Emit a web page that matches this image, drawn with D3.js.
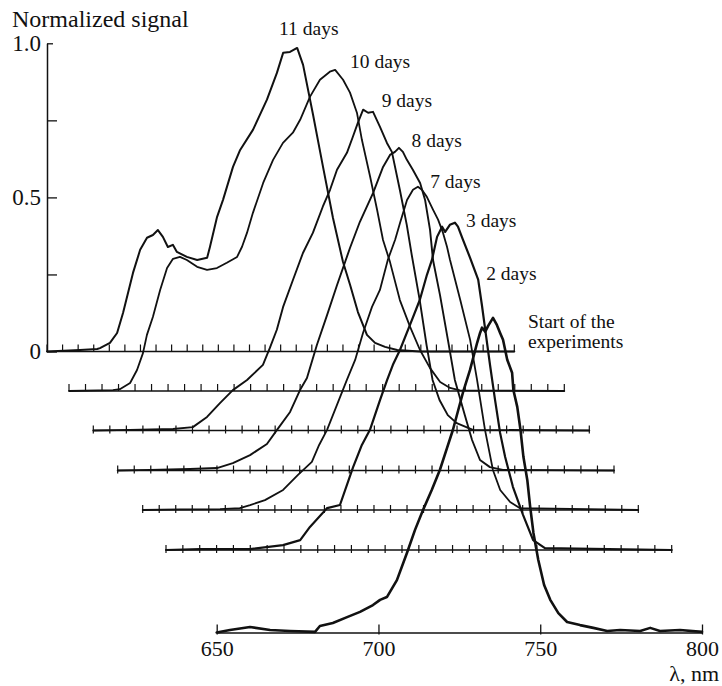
<!DOCTYPE html>
<html><head><meta charset="utf-8">
<script src="https://cdn.jsdelivr.net/npm/d3@7"></script>
<style>html,body{margin:0;padding:0;background:#fff;} svg{display:block}</style>
</head><body><svg id="chart" width="722" height="686"></svg>
<script>
// ---------------- DATA ----------------
const seriesNames = ["11 days","10 days","9 days","8 days","7 days","3 days","2 days","Start of the experiments"];
const xTickValues = [650, 700, 750, 800];
const yTickValues = [0, 0.25, 0.5, 0.75, 1.0];
const yTickLabels = {"0": "0", "0.5": "0.5", "1": "1.0"};
const minorTickStep = 5; // nm
const xDomain = [650, 800];

// [wavelength nm, normalized signal]
const curve11 = [[650,0],[660.6,0.005],[666.1,0.008],[667.0,0.011],[670.2,0.028],[672.5,0.060],[674.4,0.125],[676.0,0.190],[677.6,0.255],[679.9,0.330],[682.1,0.369],[684.0,0.378],[685.6,0.394],[687.2,0.372],[688.8,0.339],[690.4,0.346],[691.7,0.323],[694.9,0.307],[698.2,0.297],[701.4,0.304],[702.3,0.339],[704.6,0.437],[706.5,0.492],[709.7,0.599],[712.0,0.654],[716.1,0.719],[720.6,0.817],[723.8,0.904],[725.8,0.969],[728.0,0.972],[730.3,0.985],[732.2,0.930],[735.4,0.768],[738.6,0.599],[741.8,0.433],[745.0,0.291],[747.3,0.216],[749.8,0.128],[752.7,0.054],[755.3,0.028],[758.5,0.015],[762.4,0.005],[769.7,0],[800,0]];
const curve10 = [[650,0],[663.3,0.003],[665.4,0.006],[668.5,0.026],[670.6,0.068],[672.4,0.123],[673.6,0.182],[675.4,0.240],[677.6,0.328],[679.7,0.399],[681.5,0.429],[683.6,0.435],[685.7,0.425],[688.8,0.403],[691.8,0.393],[694.8,0.399],[697.8,0.416],[700.9,0.435],[702.4,0.468],[703.9,0.513],[705.7,0.578],[708.8,0.675],[711.8,0.750],[714.8,0.805],[717.8,0.838],[720.0,0.880],[723.0,0.955],[726.0,1.010],[729.0,1.036],[730.6,1.042],[733.0,1.010],[735.1,0.968],[737.2,0.903],[738.7,0.815],[741.2,0.695],[743.3,0.588],[745.1,0.490],[747.2,0.419],[750.2,0.295],[753.3,0.208],[756.3,0.133],[759.3,0.075],[762.4,0.029],[765.4,0.010],[768.4,0.002],[800,0]];
const curve9 = [[650,0],[661.1,0.002],[674.1,0.005],[680.1,0.011],[684.4,0.044],[688.3,0.089],[692.2,0.131],[696.5,0.164],[701.3,0.213],[703.4,0.268],[705.5,0.327],[707.4,0.401],[710.4,0.489],[713.4,0.576],[716.4,0.641],[719.4,0.726],[721.6,0.781],[723.7,0.846],[726.7,0.901],[728.5,0.953],[730.0,0.998],[731.6,1.041],[733.1,1.031],[734.6,1.034],[736.7,0.985],[738.8,0.933],[740.3,0.904],[742.7,0.781],[744.8,0.667],[746.3,0.570],[748.7,0.424],[750.8,0.276],[752.6,0.164],[754.7,0.099],[757.2,0.050],[759.9,0.024],[764.8,0.002],[800,0]];
const curve8 = [[650,0],[659.8,0.002],[671.8,0.005],[680.0,0.008],[684.8,0.024],[690.0,0.050],[695.1,0.086],[698.1,0.131],[702.1,0.190],[705.1,0.261],[707.2,0.300],[710.2,0.407],[713.3,0.505],[716.3,0.602],[720.2,0.722],[723.2,0.807],[727.2,0.901],[730.2,0.985],[732.3,1.024],[733.8,1.034],[735.0,1.047],[736.2,1.034],[737.4,1.008],[739.2,0.976],[741.4,0.933],[742.9,0.878],[744.4,0.781],[745.3,0.683],[747.4,0.570],[749.8,0.424],[751.9,0.294],[754.9,0.180],[757.1,0.099],[759.5,0.034],[762.5,0.011],[766.4,0.002],[800,0]];
const curve7 = [[650,0],[661.3,0.002],[673.4,0.003],[679.4,0.006],[682.5,0.016],[687.0,0.032],[692.5,0.065],[697.0,0.114],[701.2,0.156],[703.4,0.211],[705.8,0.260],[708.8,0.341],[711.8,0.422],[714.3,0.487],[716.7,0.575],[719.4,0.659],[721.8,0.714],[724.2,0.812],[726.4,0.877],[727.9,0.932],[730.0,1.006],[731.8,1.039],[733.3,1.049],[734.5,1.039],[736.0,1.016],[737.9,0.974],[739.4,0.942],[740.9,0.899],[742.1,0.854],[743.0,0.812],[746.1,0.682],[749.1,0.552],[751.2,0.422],[753.6,0.260],[756.0,0.130],[758.2,0.065],[761.2,0.026],[764.2,0.006],[800,0]];
const curve3 = [[650,0],[660.1,0.003],[674.9,0.003],[684.7,0.016],[689.8,0.032],[692.7,0.075],[697.8,0.136],[701.6,0.146],[705.5,0.269],[708.1,0.341],[710.5,0.390],[713.5,0.487],[715.6,0.552],[717.3,0.601],[719.4,0.649],[722.4,0.731],[725.3,0.812],[727.4,0.893],[728.9,0.942],[730.4,1.016],[731.9,1.049],[732.8,1.032],[734.2,1.055],[735.7,1.062],[736.6,1.049],[738.1,1.006],[740.2,0.948],[742.6,0.877],[743.7,0.795],[744.9,0.698],[746.1,0.601],[747.6,0.487],[749.1,0.380],[750.6,0.302],[752.9,0.205],[755.9,0.114],[758.9,0.032],[762.4,0.006],[800,0]];
const curveStart = [[650,0],[654.1,0.008],[660.3,0.018],[666.5,0.008],[672.7,0.005],[680.4,0.002],[681.9,0.021],[685.9,0.031],[690.3,0.050],[694.3,0.067],[698.3,0.089],[700.5,0.106],[702.6,0.115],[705.7,0.170],[708.8,0.258],[711.3,0.333],[713.8,0.398],[716.5,0.463],[719.0,0.528],[721.2,0.599],[723.0,0.657],[726.1,0.778],[728.3,0.852],[730.5,0.940],[731.4,0.972],[732.0,0.989],[733.0,0.976],[733.9,0.995],[735.4,1.021],[736.6,0.998],[737.6,0.972],[738.5,0.950],[739.8,0.885],[741.3,0.843],[741.7,0.787],[742.9,0.732],[743.9,0.657],[744.8,0.570],[746.0,0.495],[746.9,0.407],[747.9,0.323],[749.4,0.235],[751.2,0.154],[753.1,0.106],[755.6,0.063],[758.3,0.034],[762.3,0.024],[766.4,0.015],[770.7,0.005],[774.7,0.008],[780.9,0.005],[784.0,0.015],[787.0,0.005],[793.2,0.008],[800,0.002]];

const seriesCurves = [curve11, curve10, curve9, curve8, curve7, curve3, null, curveStart];

// ---------------- LAYOUT ----------------
const W = 722, H = 686, unitPx = 308.2;
const fontSerif = "'Liberation Serif','Times New Roman',Times,serif";
// baseline geometry per level (top -> bottom); level 6 ("2 days") has no drawn baseline
const levelGeom = [
  {x0: 47,    x1: 514.3, y0: 351.5, tickUp: 7, tickDown: 0, baseline: true},
  {x0: 69,    x1: 564.3, y0: 391,   tickUp: 7, tickDown: 0, baseline: true},
  {x0: 93.3,  x1: 589.3, y0: 430.5, tickUp: 5, tickDown: 3, baseline: true},
  {x0: 117.7, x1: 614,   y0: 470.5, tickUp: 5, tickDown: 3, baseline: true},
  {x0: 142.7, x1: 638.3, y0: 510,   tickUp: 5, tickDown: 3, baseline: true},
  {x0: 166,   x1: 671.7, y0: 550,   tickUp: 5, tickDown: 3, baseline: true},
  {x0: 192.4, x1: 688,   y0: 592.6, baseline: false},
  {x0: 216.7, x1: 702,   y0: 632.5, baseline: false}
];
const strokeW = [2.0, 1.8, 1.9, 1.9, 1.8, 2.2, 2, 2.6];
// label anchors in each series' own (nm, signal) coordinates
const labelAnchor = [[724.5,1.028],[735.1,1.049],[737.2,1.050],[738.8,1.050],[737.0,1.045],[739.0,1.049],[738.9,1.015],[746.2,0.989]];

const svg = d3.select("#chart");
svg.append("rect").attr("width", W).attr("height", H).attr("fill", "#fff");

const scales = levelGeom.map(g => ({
  x: d3.scaleLinear().domain(xDomain).range([g.x0, g.x1]),
  y: d3.scaleLinear().domain([0, 1]).range([g.y0, g.y0 - unitPx])
}));

const ink = "#111";

// offset baselines with minor ticks
const minorTicks = d3.range(xDomain[0], xDomain[1] + 0.01, minorTickStep);
levelGeom.forEach((g, i) => {
  if (!g.baseline) return;
  const s = scales[i];
  const gg = svg.append("g");
  gg.append("line").attr("x1", s.x(xDomain[0])).attr("x2", s.x(xDomain[1]))
    .attr("y1", s.y(0)).attr("y2", s.y(0)).attr("stroke", ink).attr("stroke-width", 1.5);
  gg.selectAll("line.t").data(minorTicks).join("line").attr("class", "t")
    .attr("x1", d => s.x(d)).attr("x2", d => s.x(d))
    .attr("y1", s.y(0) - g.tickUp).attr("y2", s.y(0) + g.tickDown)
    .attr("stroke", ink).attr("stroke-width", 1.2);
});

// bottom axis (Start of the experiments)
const sb = scales[7];
const xAxis = d3.axisBottom(sb.x).tickValues(xTickValues).tickSizeInner(-8).tickSizeOuter(0).tickPadding(8);
const gx = svg.append("g").attr("transform", `translate(0,${sb.y(0)})`).call(xAxis);
gx.select(".domain").attr("stroke", ink).attr("stroke-width", 1.5);
gx.selectAll(".tick line").attr("stroke", ink).attr("stroke-width", 1.3).attr("y2", -8).attr("y1", 2);
gx.selectAll(".tick text").attr("font-family", fontSerif).attr("font-size", 22).attr("fill", ink);

// left y axis on top level
const s0 = scales[0];
const yAxis = d3.axisLeft(s0.y).tickValues(yTickValues).tickSizeInner(-10).tickSizeOuter(0).tickPadding(6)
  .tickFormat(d => yTickLabels[String(d)] || "");
const gy = svg.append("g").attr("transform", `translate(${s0.x(xDomain[0])},0)`).call(yAxis);
gy.select(".domain").attr("stroke", ink).attr("stroke-width", 1.5);
gy.selectAll(".tick line").attr("stroke", ink).attr("stroke-width", 1.3)
  .attr("x2", d => d === 1 ? 6 : 10);
gy.selectAll(".tick text").attr("font-family", fontSerif).attr("font-size", 23).attr("fill", ink);

// curves
const lineGen = (s) => d3.line().x(d => s.x(d[0])).y(d => s.y(d[1])).curve(d3.curveLinear);
seriesCurves.forEach((c, i) => {
  if (!c) return;
  svg.append("path").datum(c).attr("d", lineGen(scales[i]))
    .attr("fill", "none").attr("stroke", ink).attr("stroke-width", strokeW[i])
    .attr("stroke-linejoin", "round").attr("stroke-linecap", "round");
});

// series labels
seriesNames.forEach((name, i) => {
  const s = scales[i], a = labelAnchor[i];
  const t = svg.append("text").attr("font-family", fontSerif).attr("font-size", 19.5).attr("fill", ink)
    .attr("x", s.x(a[0])).attr("y", s.y(a[1]));
  if (name === "Start of the experiments") {
    t.append("tspan").attr("x", s.x(a[0])).attr("dy", 0).text("Start of the");
    t.append("tspan").attr("x", s.x(a[0])).attr("dy", 20).text("experiments");
  } else {
    t.text(name);
  }
});

// axis titles
svg.append("text").attr("x", 12).attr("y", 27).attr("font-family", fontSerif).attr("font-size", 24)
  .attr("fill", ink).text("Normalized signal");
svg.append("text").attr("x", 719).attr("y", 681).attr("text-anchor", "end").attr("font-family", fontSerif)
  .attr("font-size", 22).attr("fill", ink).text("λ, nm");
</script></body></html>
